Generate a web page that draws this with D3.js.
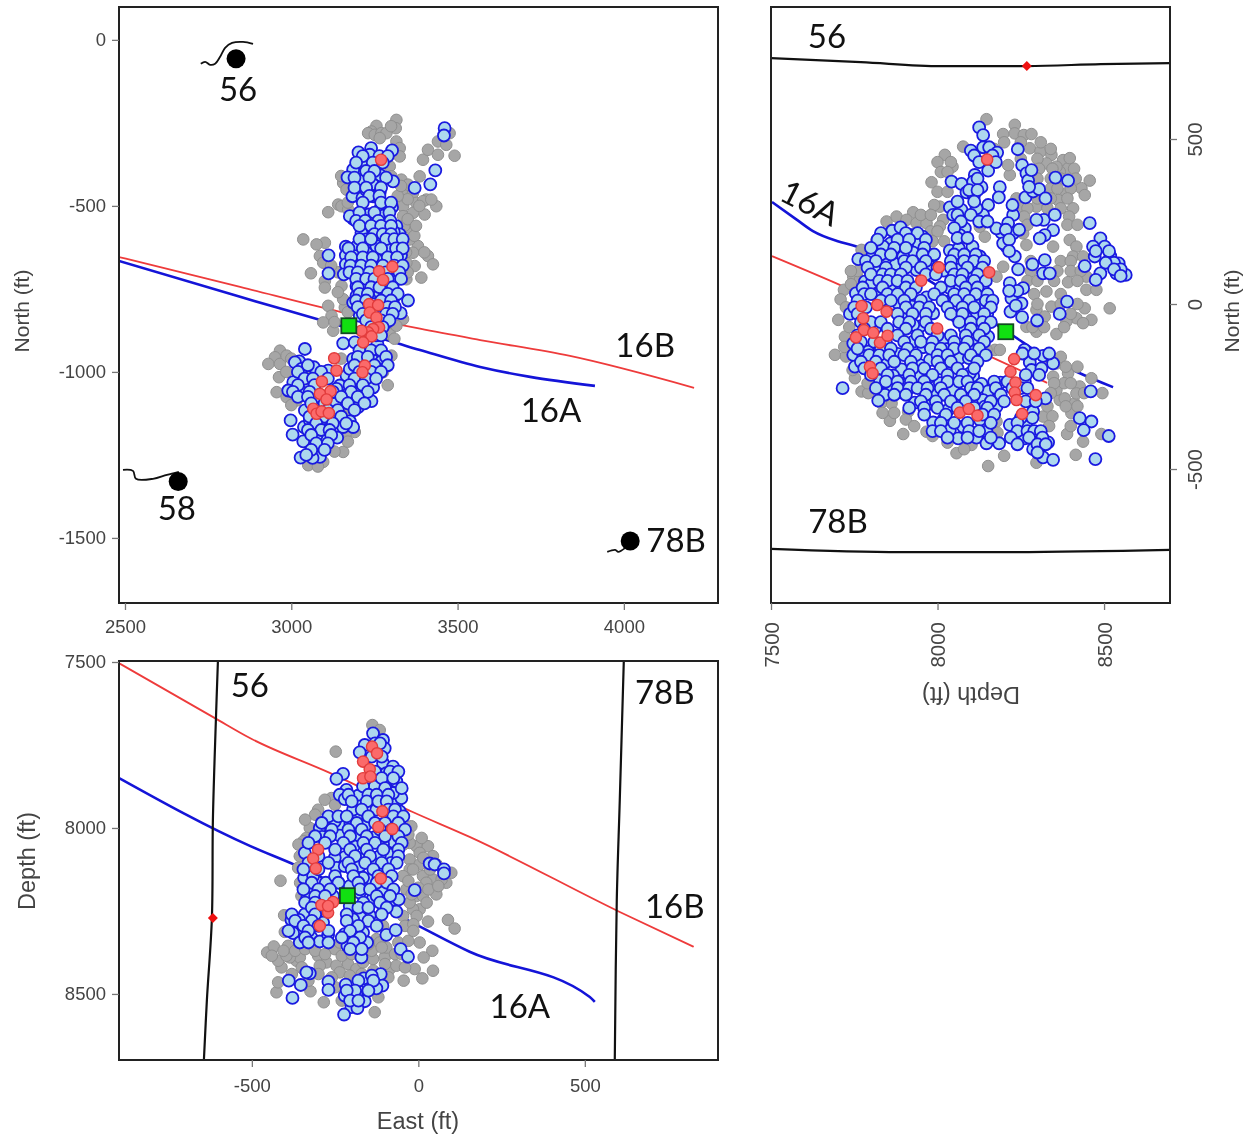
<!DOCTYPE html>
<html>
<meta charset="utf-8">
<head>
<style>
body { margin: 0; background: #fff; }
svg { display: block; filter: blur(0.4px); }
.axis text { font: 18.5px "Liberation Sans", sans-serif; fill: #444; }
.axis.sideways text { font-size: 20.5px; }
.axis line { stroke: #777; stroke-width: 1.3; }
.title { font: 21px "Liberation Sans", sans-serif; fill: #444; text-anchor: middle; }
.title.wide { font-size: 23.5px; }
.well { font: 33px Lato, sans-serif; fill: #111; text-anchor: middle; }
.frame { fill: none; stroke: #222; stroke-width: 2; }
.grey { fill: #a6a6a6; stroke: #8f8f8f; stroke-width: 1; }
.blue { fill: #add8ee; stroke: #1a1ae0; stroke-width: 1.8; }
.red { fill: #fb6a6a; stroke: #e23c3c; stroke-width: 1.4; }
.green { fill: #11e011; stroke: #134a22; stroke-width: 1.8; }
</style>
</head>
<body>
<svg width="1250" height="1138"></svg>

<script src="https://d3js.org/d3.v7.min.js"></script>
<script>

// East / North view (top left)
var greyEN = [[3316,-241],[3314,-266],[3256,-259],[3241,-276],[3231,-281],[3251,-286],[3271,-281],[3286,-281],[3266,-296],[3316,-306],[3326,-326],[3326,-351],[3296,-381],[3301,-411],[3156,-431],[3166,-451],[3331,-421],[3341,-451],[3366,-461],[3351,-436],[3386,-411],[3396,-361],[3411,-331],[3441,-346],[3491,-349],[3441,-306],[3466,-316],[3476,-281],[3406,-481],[3376,-491],[3396,-486],[3436,-501],[3421,-481],[3366,-521],[3401,-526],[3336,-501],[3336,-531],[3356,-566],[3111,-519],[3141,-496],[3151,-501],[3171,-511],[3036,-601],[3101,-611],[3076,-616],[3086,-651],[3096,-671],[3381,-621],[3411,-651],[3426,-676],[3371,-681],[3391,-716],[3356,-601],[3366,-641],[3346,-671],[3346,-721],[3059,-703],[3101,-726],[3101,-746],[3151,-741],[3111,-801],[3121,-831],[3096,-851],[3126,-876],[3161,-806],[3336,-841],[3296,-886],[3301,-951],[2966,-936],[2951,-956],[2931,-976],[2966,-976],[2986,-951],[2963,-1016],[2956,-1061],[2986,-1076],[3016,-1086],[3156,-1241],[3051,-1281],[3096,-1271],[3191,-1181],[3166,-1181],[3146,-1111],[3176,-1131],[3276,-1001],[3156,-781],[3316,-861],[3326,-581],[3350,-480],[3385,-500],[3340,-560],[3370,-590],[3345,-640],[3400,-640],[3350,-700],[3140,-700],[3120,-680],[3140,-760],[3130,-850],[3170,-820],[3310,-900],[3060,-1000],[2985,-1000],[3000,-960],[3150,-960],[3120,-1140],[3170,-1210],[3130,-1240],[3080,-1285],[3350,-540],[3320,-470],[3300,-260],[3330,-440],[3170,-490],[3150,-410],[3375,-560],[3290,-1040],[3000,-1100],[3050,-1120]];
var blueEN = [[3461,-266],[3459,-288],[3433,-393],[3418,-435],[3371,-446],[3306,-426],[3303,-333],[3240,-326],[3202,-339],[3236,-346],[3211,-391],[3186,-391],[3169,-414],[3221,-376],[3268,-408],[3206,-421],[3246,-436],[3266,-459],[3184,-471],[3214,-476],[3246,-471],[3224,-451],[3303,-504],[3266,-511],[3278,-529],[3233,-526],[3215,-541],[3186,-539],[3176,-531],[3251,-546],[3286,-571],[3236,-578],[3211,-581],[3316,-561],[3326,-586],[3308,-578],[3266,-591],[3331,-611],[3299,-611],[3243,-623],[3198,-621],[3164,-623],[3278,-641],[3330,-648],[3226,-641],[3164,-649],[3112,-649],[3198,-671],[3164,-676],[3112,-703],[3158,-706],[3186,-701],[3221,-693],[3256,-661],[3296,-671],[3316,-681],[3196,-741],[3221,-743],[3245,-761],[3286,-741],[3316,-721],[3306,-781],[3351,-785],[3329,-823],[3286,-781],[3276,-811],[3196,-771],[3186,-791],[3216,-801],[3286,-851],[3206,-831],[3156,-914],[3191,-911],[3259,-916],[3261,-946],[3246,-966],[3271,-969],[3041,-931],[3024,-968],[3011,-971],[3031,-991],[3068,-986],[3006,-1031],[3046,-1031],[2991,-1056],[3031,-1061],[3111,-996],[3166,-1011],[3201,-1031],[3156,-1066],[3246,-1047],[3186,-1086],[3216,-1083],[3241,-1088],[3201,-1106],[3131,-1096],[3146,-1041],[2998,-1146],[3004,-1189],[3038,-1166],[3056,-1146],[3041,-1116],[3176,-1149],[3186,-1166],[3156,-1166],[3138,-1198],[3093,-1198],[3051,-1213],[3036,-1209],[3076,-1191],[3106,-1161],[3091,-1231],[3086,-1256],[3064,-1259],[3028,-1258],[3096,-1141],[3266,-996],[3226,-961],[3186,-961],[3176,-991],[3206,-1061],[3136,-1051],[3246,-701],[3266,-721],[3306,-721],[3266,-761],[3206,-701],[3296,-621],[3256,-621],[3191,-651],[3226,-601],[3286,-551],[3316,-611]];
// more blue events in the packed part of the cloud: [north, [east, east, ...]]
var blueENRows = [[-350,[3215,3265,3290]],[-370,[3195,3245,3275]],[-395,[3225,3250]],[-415,[3190,3235,3285]],[-445,[3190,3225,3270]],[-470,[3235,3265]],[-490,[3215,3270,3300]],[-520,[3205,3250,3295]],[-545,[3195,3222,3262,3298]],[-560,[3205,3240,3270,3300]],[-585,[3250,3275,3300]],[-600,[3205,3240,3285,3310,3335]],[-628,[3172,3215,3270,3315,3335]],[-655,[3180,3215,3245,3290,3318]],[-680,[3178,3210,3240,3275,3310,3335]],[-700,[3175,3200,3235,3285,3325]],[-720,[3195,3225,3250,3290,3330]],[-745,[3200,3240,3265,3305]],[-765,[3205,3230,3290,3320]],[-785,[3195,3225,3270,3300]],[-805,[3200,3250,3290,3312]],[-825,[3215,3285,3305]],[-845,[3225,3270,3295]],[-865,[3240,3275]],[-890,[3255,3270]],[-935,[3205,3240,3270]],[-955,[3200,3230,3285]],[-980,[3050,3190,3250,3290]],[-1000,[3020,3090,3205,3240,3270]],[-1020,[3040,3065,3110,3190,3225,3255]],[-1040,[3020,3070,3175,3215]],[-1060,[3005,3055,3125,3180,3230]],[-1075,[3020,3050,3150,3200]],[-1095,[3060,3100,3170,3220]],[-1115,[3110,3140,3190]],[-1135,[3055,3100,3150]],[-1155,[3075,3125,3165]],[-1175,[3050,3090,3115]],[-1190,[3060,3120]],[-1215,[3075,3110]],[-1235,[3060,3100]],[-1250,[3045]]];
var redEN = [[3270,-361],[3304,-683],[3264,-697],[3276,-723],[3234,-796],[3261,-799],[3236,-821],[3256,-836],[3264,-866],[3246,-871],[3231,-881],[3211,-876],[3241,-893],[3216,-911],[3129,-959],[3136,-996],[3221,-981],[3214,-1001],[3092,-1029],[3118,-1058],[3086,-1066],[3106,-1083],[3066,-1111],[3076,-1126],[3091,-1119],[3113,-1124]];

// Depth / North view (top right)
var greyDN = [[8147,560],[8197,515],[8232,543],[8232,517],[8259,512],[8282,515],[8022,452],[8077,477],[8045,416],[8217,391],[8212,421],[8277,472],[8309,462],[8342,452],[8377,436],[8392,411],[8397,442],[8327,426],[8367,401],[8357,416],[7982,369],[8007,295],[8017,255],[8457,374],[8432,351],[8442,330],[8407,290],[8387,335],[8362,315],[8297,295],[8257,295],[8237,320],[7927,278],[7847,250],[7877,265],[7907,255],[7937,245],[7817,194],[7772,164],[7967,245],[8007,235],[8127,234],[8142,204],[8257,214],[8267,179],[8347,174],[8397,194],[8417,174],[8407,144],[8437,144],[8392,66],[8327,38],[8342,-8],[8297,-18],[8322,-38],[8177,83],[8197,113],[8517,-13],[8442,-13],[8462,-48],[8417,-43],[8387,-53],[8437,-58],[8357,-91],[8297,-84],[8267,-69],[7719,43],[7709,14],[7702,-48],[7722,-99],[7692,-154],[7725,-159],[7752,-225],[7772,-265],[7792,-270],[7857,-354],[7897,-394],[7862,-301],[7912,-326],[7967,-387],[8057,-452],[8102,-427],[8152,-491],[8177,-356],[8172,-139],[8187,-139],[8147,-139],[8297,-481],[8415,-457],[8437,-417],[8389,-394],[8492,-394],[8495,-270],[8447,43],[8477,43],[8447,83],[8427,-250],[8412,-301],[8402,-331],[8367,-291],[8347,-220],[8357,-180],[8392,-210],[8462,-225],[8382,-286],[8317,-341],[8357,-260],[8417,-271],[7747,83],[7767,73]];
var greyDNRows = [[490,[8200,8250,8310]],[470,[8170,8340]],[440,[8250,8300]],[430,[8000,8040]],[410,[8305,8345,8410]],[400,[8010,8030]],[380,[8300,8340,8370,8415]],[350,[8340,8360,8400]],[340,[8000,8030]],[320,[8300,8340,8390]],[300,[7990]],[290,[8270,8330,8370]],[270,[7950,7980]],[265,[8260,8395]],[240,[8270,8390,8420]],[220,[7980,8000]],[190,[7985,8020]],[130,[8280,8370,8400]],[100,[7760,7740,8280,8360,8400,8430]],[70,[8270,8300,8350,8420]],[60,[7740]],[30,[8290,8370]],[0,[8300,8370,8420]],[-10,[7725]],[-30,[8400]],[-70,[7735,8285,8320,8380]],[-130,[7720]],[-160,[8370,8330]],[-190,[8420,8385]],[-200,[7745]],[-240,[7790,8380,8400,8350]],[-270,[8340,8440]],[-300,[7830]],[-310,[8330,8385,8420]],[-330,[7870,7835]],[-340,[8345]],[-350,[7905]],[-370,[7930,8335,8400]],[-390,[8130,8180]],[-400,[7985]],[-420,[8030]],[-440,[8080]],[-460,[8200]]];
var blueDN = [[8125,535],[8137,512],[8100,465],[8137,475],[8155,475],[8179,459],[8241,469],[8254,421],[8267,396],[8272,374],[8282,406],[8354,383],[8392,374],[8042,371],[8072,364],[8112,391],[8107,371],[8132,354],[8152,404],[8087,338],[8109,327],[8187,354],[8184,323],[8264,323],[8287,341],[8305,348],[8324,320],[8037,293],[8047,270],[8072,285],[8152,300],[8137,270],[8117,290],[8082,229],[8067,209],[8227,270],[8212,245],[8192,216],[8227,214],[8177,229],[8207,174],[8232,144],[8197,184],[8319,255],[8297,255],[8352,270],[8347,224],[8322,209],[8307,199],[8457,245],[8489,199],[8467,174],[8502,174],[8472,144],[8519,144],[8442,115],[8544,123],[8565,88],[8537,93],[8489,93],[8475,73],[7864,222],[7889,232],[7859,184],[7837,174],[7922,209],[7955,204],[7942,186],[7805,149],[7842,131],[7762,136],[7817,108],[7875,121],[7927,156],[7987,149],[7897,144],[8037,162],[8064,169],[8094,152],[8105,174],[8127,144],[8067,105],[8112,113],[7977,113],[8019,101],[8092,83],[7937,103],[7782,68],[7802,63],[7822,32],[7755,32],[7862,48],[7882,2],[7892,53],[7967,20],[8037,48],[8067,48],[8097,38],[8137,43],[7922,-8],[7957,-8],[8035,7],[8067,12],[8127,-3],[8097,-8],[8149,-30],[8117,-33],[8087,-43],[8057,-38],[7737,-30],[7897,-46],[7947,-68],[7927,-63],[7987,-28],[8082,-74],[8117,-69],[8152,-99],[8217,63],[8257,48],[8222,17],[8252,2],[8242,105],[8285,120],[8322,133],[8317,93],[8337,93],[8219,-23],[8254,-40],[8299,-50],[8367,-30],[8389,7],[7927,-114],[7957,-131],[8017,-109],[8027,-137],[8117,-116],[8107,-139],[8067,-164],[8094,-164],[7977,-170],[7947,-185],[7880,-151],[7842,-178],[7812,-74],[7792,-144],[7747,-119],[7747,-154],[7777,-157],[7752,-190],[7892,-198],[7867,-217],[7902,-240],[7944,-220],[7827,-232],[7852,-250],[7842,-275],[7822,-293],[7890,-268],[7932,-299],[7977,-220],[8007,-240],[8047,-260],[7987,-276],[7977,-301],[8032,-321],[8107,-218],[8132,-242],[8152,-265],[8189,-238],[8137,-291],[8177,-311],[8142,-311],[7987,-359],[8017,-351],[8037,-382],[8077,-372],[8062,-407],[8117,-405],[8147,-387],[8185,-422],[8147,-422],[8261,-139],[8317,-157],[8347,-180],[8277,-177],[8282,-200],[8312,-195],[8262,-235],[8217,-366],[8237,-407],[8262,-407],[8287,-326],[8267,-372],[8297,-417],[8332,-419],[8287,-440],[8317,-465],[8347,-472],[8324,-286],[7715,-255],[8460,-265],[8427,-346],[8462,-356],[8439,-382],[8514,-400],[8474,-470],[8097,-210],[8127,-351]];
var blueDNRows = [[450,[8110,8165]],[430,[8125,8175]],[380,[8120]],[355,[8275]],[345,[8095,8120]],[310,[8060,8110]],[300,[8225]],[270,[8060,8100]],[250,[8070,8125,8150]],[230,[8050]],[225,[8205,8245]],[215,[7830,7905,7940]],[200,[8060,8090]],[195,[7820,7880,7915,7965,8215]],[170,[7800,7870,7905,7960]],[160,[8215,8475,8515]],[150,[7830,7860,7955,7990,8050,8080,8115]],[130,[7785,7815,7900,7925,7965,8040,8080,8110,8140]],[125,[8530,8505]],[110,[7790,7845,7905,7950,8000,8040,8090,8135]],[105,[8550,8530]],[90,[7800,7835,7860,7890,7965,7995,8050,8075,8120]],[85,[8550]],[70,[7825,7850,7880,7910,8040,8070,8110,8145]],[50,[7775,7835,7905,7935,8010,8085,8120]],[40,[8240,8215]],[30,[7780,7800,7850,7880,7920,7990,8050,8080,8115,8150]],[10,[7760,7830,7860,7900,7950,8015,8055,8095,8145,8165]],[-5,[8235]],[-10,[7750,7785,7905,7945,7975,8030,8075,8110,8160]],[-30,[7760,7880,7925,7965,8040,8075,8140]],[-55,[7770,7800,7830,7885,7915,7965,8065,8100,8135,8160]],[-75,[7780,7850,7905,7980,8100,8140]],[-95,[7760,7880,7940,8000,8040,8085,8125]],[-115,[7770,7810,7845,7900,7950,7985,8050,8090,8140]],[-135,[7760,7830,7860,7910,7980,8010,8050,8080,8125]],[-150,[8255,8290,8335]],[-155,[7795,7825,7855,7900,7935,8000,8030,8100,8145]],[-175,[7770,7815,7870,7920,8000,8040,8120]],[-195,[7780,7830,7925,7960,8010,8060,8110]],[-215,[7800,7850,7915,7985,8030,8075,8265,8305]],[-235,[7845,7880,7920,7960,8030,8065,8090,8170,8210]],[-255,[7815,7880,7915,7940,7970,8010,8100,8120,8175,8225,8250,8270]],[-275,[7870,7905,7965,8020,8070,8110,8190]],[-295,[7950,7995,8040,8085,8160,8200,8265,8295]],[-315,[7915,7960,8000,8060,8110,8150]],[-335,[7960,8025,8135,8170]],[-345,[8250,8285]],[-360,[8010,8050,8090,8160,8240]],[-385,[7985,8010,8095,8125,8240,8270,8290,8310]],[-405,[8030,8090,8160,8220,8275,8315]],[-425,[8240,8300,8325]],[-450,[8300]]];
var redDN = [[8149,438],[8004,111],[8155,96],[7951,71],[7999,-74],[7772,-6],[7819,-3],[7847,-23],[7777,-43],[7779,-79],[7807,-87],[7755,-101],[7827,-117],[7850,-96],[7797,-190],[7805,-210],[8230,-167],[8219,-205],[8234,-238],[8232,-268],[8237,-291],[8295,-276],[8254,-333],[8067,-329],[8094,-318],[8120,-338]];

// East / Depth view (bottom left)
var greyED = [[-138,7690],[-116,7705],[-248,7770],[-414,8159],[-403,8263],[-401,8313],[89,8277],[109,8303],[29,8282],[4,8345],[42,8370],[16,8390],[44,8430],[12,8453],[-11,8425],[-44,8460],[-131,8555],[-284,8525],[-324,8492],[-426,8495],[-421,8465],[-454,8375],[-434,8357],[-411,8420],[-421,8400],[-391,8355],[-366,8400],[-346,8425],[-301,8385],[-276,8405],[-246,8415],[-211,8410],[-186,8425],[-101,8390],[-86,8425],[-66,8415],[-96,8360],[-126,8335],[-261,7910],[-281,7915],[-301,7945],[-326,8000],[-336,8030],[-356,8085],[-361,8120],[-351,8205],[-21,7995],[-6,8055],[-26,8095],[29,8055],[4,8110],[-26,8125],[44,8085],[14,8145],[44,8155],[84,8165],[99,8135],[54,8200],[4,8245],[-16,8245],[-6,8205],[-36,8185],[-26,8225],[-46,8265],[-106,8295],[-116,8345],[-251,8365],[-356,8390],[-386,8390],[-296,8415],[-236,8345],[-166,8405],[-136,8395],[-66,8065],[-16,8125],[-46,8145],[14,8205],[-26,8045],[4,8075],[24,8165],[-396,8385],[-236,8435],[-206,8445],[-30,8020],[10,8030],[-45,8050],[15,8090],[55,8110],[35,8125],[70,8155],[-30,8160],[0,8180],[30,8185],[60,8175],[-20,8200],[25,8225],[-5,8265],[-40,8295],[-15,8290],[-345,8040],[-355,8165],[-250,7930],[-310,7960],[-340,7975],[-360,8050],[-440,8385],[-405,8370],[-370,8370],[-340,8365],[-310,8370],[-280,8380],[-350,8420],[-380,8440],[-330,8460],[-300,8440],[-260,8450],[-230,8385],[-200,8380],[-170,8370],[-140,8370],[-100,8410],[-135,8430],[-70,8380],[-50,8380],[-40,8420],[-170,8440],[-110,8360],[-230,8520],[-250,8480],[-120,8510],[-90,8450],[-150,8350],[-60,8345],[-30,8340],[-15,8310]];
var blueED = [[-136,7715],[-106,7735],[-161,7750],[-176,7772],[-101,7760],[-226,7837],[-246,7852],[-106,7805],[-76,7815],[-96,7835],[-131,7875],[-94,7863],[-66,7860],[-216,7885],[-236,7900],[-221,7913],[-181,7903],[-176,7935],[-66,7923],[-51,7910],[-56,7950],[-56,7990],[-186,7967],[-266,7977],[-296,8000],[-278,7985],[-236,7990],[-204,7987],[-251,7980],[-289,8027],[-236,8023],[-181,8028],[-131,8028],[-161,7995],[-76,8042],[-106,8048],[-194,8055],[-341,8075],[-86,8080],[-116,8085],[-221,8088],[-251,8090],[-131,8110],[-81,8105],[-176,8115],[-146,8155],[-343,8150],[-316,8145],[-278,8165],[-166,8150],[-106,8190],[-331,8185],[-334,8213],[-246,8120],[-221,8115],[-11,8187],[34,8107],[49,8110],[77,8125],[77,8137],[-136,8212],[-101,8220],[-78,8217],[-59,8215],[-66,8252],[-126,8273],[-146,8263],[-173,8270],[-196,8275],[-341,8260],[-358,8277],[-381,8277],[-356,8305],[-376,8317],[-356,8345],[-321,8330],[-296,8342],[-271,8322],[-221,8320],[-196,8328],[-166,8315],[-213,8355],[-154,8345],[-96,8322],[-68,8308],[-53,8365],[-31,8388],[-171,8390],[-113,8440],[-108,8475],[-156,8465],[-126,8483],[-164,8453],[-326,8438],[-336,8435],[-389,8460],[-353,8473],[-378,8512],[-270,8463],[-270,8488],[-218,8472],[-186,8500],[-206,8510],[-161,8522],[-201,8540],[-183,8543],[-223,8562],[-221,8505],[-306,8255],[-286,8285],[-206,8235],[-176,8195],[-206,8175],[-256,8205],[-156,8085],[-196,7945],[-76,7895],[-126,7945],[-166,7875]];
var blueEDRows = [[7745,[-130,-115]],[7785,[-140,-110]],[7830,[-130,-85,-60]],[7850,[-110,-75]],[7880,[-100,-50]],[7900,[-210,-150,-125,-90]],[7920,[-200,-155,-120,-95]],[7945,[-170,-90,-70]],[7965,[-270,-240,-215,-150,-75,-45]],[7985,[-290,-185,-130,-100,-60]],[8005,[-260,-210,-170,-115,-80,-40]],[8025,[-310,-265,-205,-155,-100,-60]],[8045,[-330,-280,-225,-165,-130,-50]],[8065,[-250,-205,-155,-105,-60]],[8085,[-300,-190,-145,-60]],[8105,[-330,-270,-210,-160,-110,-65]],[8125,[-345,-300,-200,-135,-90]],[8145,[-250,-195,-120,-80]],[8165,[-320,-240,-180,-125,-95]],[8185,[-345,-300,-265,-175,-145,-75]],[8205,[-310,-280,-125,-85]],[8225,[-340,-310,-165,-115]],[8240,[-320,-180,-150,-95]],[8260,[-380,-310,-215,-110]],[8280,[-370,-320,-215,-150]],[8295,[-345,-300,-180,-125]],[8310,[-390,-330,-270,-205]],[8330,[-340,-230,-175]],[8345,[-330,-270,-195]],[8365,[-205,-170]],[8445,[-140]],[8460,[-180,-135]],[8490,[-190,-150,-215]],[8520,[-205,-180]]];
var redED = [[-139,7755],[-124,7775],[-166,7800],[-146,7823],[-166,7850],[-144,7845],[-108,7950],[-120,7997],[-78,8003],[-301,8065],[-316,8092],[-308,8122],[-113,8152],[-291,8232],[-256,8223],[-271,8255],[-296,8295],[-271,8235]];

// wells and lateral traces in each view
var line16AEN = [[2482,-666],[2846,-774],[3147,-861],[3387,-934],[3568,-985],[3718,-1015],[3913,-1042]];
var line16BEN = [[2482,-654],[2846,-744],[3147,-819],[3387,-870],[3568,-904],[3838,-952],[4211,-1048]];
var well56EN = [[2728,-72],[2741,-66],[2756,-75],[2771,-72],[2786,-51],[2801,-24],[2822,-9],[2855,-6],[2885,-12]];
var well58EN = [[2494,-1295],[2524,-1298],[2533,-1322],[2584,-1322],[2626,-1310],[2662,-1301]];
var well78EN = [[3950,-1542],[3974,-1536],[3983,-1542],[4004,-1530]];

var line16ADN = [[7503,309],[7578,255],[7626,221],[7698,191],[7752,176],[8233,-100],[8299,-145],[8419,-206],[8527,-252]];
var line16BDN = [[7503,145],[7713,55],[8149,-155],[8329,-239]];
var well56DN = [[7500,745],[7770,733],[8010,721],[8268,721],[8490,727],[8700,730]];
var well78DN = [[7500,-742],[7890,-752],[8190,-752],[8700,-745]];

var line16AED = [[-900,7849],[-506,8054],[-371,8111],[-17,8286],[154,8373],[515,8509],[530,8524]];
var line16BED = [[-900,7503],[-611,7669],[-506,7729],[-266,7834],[-17,7952],[154,8027],[605,8253],[827,8358]];
var well56ED = [[-602,7500],[-608,7675],[-617,7976],[-620,8271],[-635,8518],[-644,8699]];
var well78ED = [[617,7500],[605,7916],[596,8217],[590,8699]];

// rows are [y, [x, x, ...]], turn them into [x, y] pairs
function fromRows(rows) {
  var out = [];
  rows.forEach(function(r) {
    r[1].forEach(function(v) { out.push([v, r[0]]); });
  });
  return out;
}

var svg = d3.select("svg");

function panel(o) {
  var x = d3.scaleLinear().domain(o.xDomain).range([o.left, o.right]),
    y = d3.scaleLinear().domain(o.yDomain).range([o.bottom, o.top]);

  var clipId = "clip" + o.id;
  svg.append("clipPath").attr("id", clipId).append("rect")
    .attr("x", o.left).attr("y", o.top)
    .attr("width", o.right - o.left).attr("height", o.bottom - o.top);

  var g = svg.append("g").attr("clip-path", "url(#" + clipId + ")");
  var path = d3.line().x(function(d) { return x(d[0]); }).y(function(d) { return y(d[1]); });

  o.lines.forEach(function(l) {
    g.append("path").attr("d", path.curve(l.curve || d3.curveCatmullRom)(l.data))
      .attr("fill", "none").attr("stroke", l.color).attr("stroke-width", l.width);
  });

  // draw order: everything grey, then blue, then red on top
  [["grey", o.grey, 5.8], ["blue", o.blue, 6], ["red", o.red, 5.6]].forEach(function(s) {
    g.append("g").selectAll("circle")
      .data(s[1]).enter().append("circle")
      .attr("class", s[0])
      .attr("cx", function(d) { return x(d[0]); })
      .attr("cy", function(d) { return y(d[1]); })
      .attr("r", s[2]);
  });

  (o.dots || []).forEach(function(d) {
    g.append("circle").attr("cx", x(d[0])).attr("cy", y(d[1])).attr("r", 9.5).attr("fill", "#000");
  });

  if (o.green) {
    g.append("rect").attr("class", "green")
      .attr("x", x(o.green[0]) - 7.5).attr("y", y(o.green[1]) - 7.5)
      .attr("width", 15).attr("height", 15);
  }

  if (o.diamond) {
    g.append("path").attr("d", d3.symbol().type(d3.symbolSquare).size(50))
      .attr("transform", "translate(" + x(o.diamond[0]) + "," + y(o.diamond[1]) + ") rotate(45)")
      .attr("fill", "#ee1111");
  }

  o.labels.forEach(function(l) {
    svg.append("text").attr("class", "well")
      .attr("transform", "translate(" + x(l[1]) + "," + y(l[2]) + ")" + (l[3] ? " rotate(" + l[3] + ")" : ""))
      .attr("dy", "0.35em")
      .text(l[0]);
  });

  svg.append("rect").attr("class", "frame")
    .attr("x", o.left).attr("y", o.top)
    .attr("width", o.right - o.left).attr("height", o.bottom - o.top);

  return {x: x, y: y};
}

function cleanAxis(sel) {
  sel.select(".domain").remove();
  sel.selectAll("text").attr("fill", null);
  sel.selectAll("line").attr("stroke", null);
}

var smooth = d3.curveMonotoneX;

// top left
var en = panel({
  id: "EN", left: 119, right: 718, top: 7, bottom: 603,
  xDomain: [2482, 4283], yDomain: [-1696, 99],
  grey: greyEN, blue: blueEN.concat(fromRows(blueENRows)), red: redEN, green: [3173, -861],
  dots: [[2834, -57], [2660, -1330], [4019, -1509]],
  lines: [
    {data: line16BEN, color: "#ee3b3b", width: 1.8, curve: smooth},
    {data: line16AEN, color: "#1414d8", width: 2.6, curve: smooth},
    {data: well56EN, color: "#111", width: 1.8},
    {data: well58EN, color: "#111", width: 1.8},
    {data: well78EN, color: "#111", width: 1.8}
  ],
  labels: [["56", 2840, -148], ["16B", 4064, -920], ["16A", 3781, -1115], ["58", 2656, -1412], ["78B", 4157, -1509]]
});

// top right
var dn = panel({
  id: "DN", left: 771, right: 1170, top: 7, bottom: 603,
  xDomain: [7500, 8698], yDomain: [-906, 900],
  grey: greyDN.concat(fromRows(greyDNRows)), blue: blueDN.concat(fromRows(blueDNRows)), red: redDN, green: [8205, -84],
  diamond: [8268, 721],
  lines: [
    {data: line16BDN, color: "#ee3b3b", width: 1.8, curve: smooth},
    {data: line16ADN, color: "#1414d8", width: 2.6, curve: smooth},
    {data: well56DN, color: "#111", width: 2.2, curve: smooth},
    {data: well78DN, color: "#111", width: 2.2, curve: smooth}
  ],
  labels: [["56", 7668, 812], ["78B", 7701, -658], ["16A", 7617, 306, 27]]
});

// bottom left
var ed = panel({
  id: "ED", left: 119, right: 718, top: 661, bottom: 1060,
  xDomain: [-899, 900], yDomain: [8699, 7497],
  grey: greyED, blue: blueED.concat(fromRows(blueEDRows)), red: redED, green: [-213, 8204],
  diamond: [-617, 8271],
  lines: [
    {data: line16BED, color: "#ee3b3b", width: 1.8, curve: smooth},
    {data: line16AED, color: "#1414d8", width: 2.6, curve: smooth},
    {data: well56ED, color: "#111", width: 2.2},
    {data: well78ED, color: "#111", width: 2.2}
  ],
  labels: [["56", -506, 7570], ["78B", 740, 7592], ["16B", 770, 8236], ["16A", 305, 8537]]
});

// axes, R style: short grey ticks, labels outside
var eastTicks = [2500, 3000, 3500, 4000], northTicks = [0, -500, -1000, -1500],
  depthTicks = [7500, 8000, 8500], northTicksDN = [500, 0, -500], eastTicksED = [-500, 0, 500];

svg.append("g").attr("class", "axis").attr("transform", "translate(0,603)")
  .call(d3.axisBottom(en.x).tickValues(eastTicks).tickSize(7).tickPadding(10).tickFormat(String)).call(cleanAxis);
svg.append("g").attr("class", "axis").attr("transform", "translate(119,0)")
  .call(d3.axisLeft(en.y).tickValues(northTicks).tickSize(7).tickPadding(6).tickFormat(String)).call(cleanAxis);

// top right: labels are turned sideways
svg.append("g").attr("class", "axis sideways").attr("transform", "translate(0,603)")
  .call(d3.axisBottom(dn.x).tickValues(depthTicks).tickSize(7).tickPadding(7).tickFormat(String)).call(cleanAxis)
  .selectAll("text")
  .attr("transform", "rotate(-90)")
  .attr("text-anchor", "end").attr("x", -19).attr("y", 0).attr("dy", "0.35em");
var dnRight = svg.append("g").attr("class", "axis sideways").attr("transform", "translate(1170,0)")
  .call(d3.axisRight(dn.y).tickValues(northTicksDN).tickSize(7).tickPadding(7).tickFormat(String)).call(cleanAxis);
dnRight.selectAll("text")
  .attr("text-anchor", "middle").attr("dy", "0.35em").attr("x", 0).attr("y", 0)
  .attr("transform", "translate(25,0) rotate(-90)");

svg.append("g").attr("class", "axis").attr("transform", "translate(0,1060)")
  .call(d3.axisBottom(ed.x).tickValues(eastTicksED).tickSize(7).tickPadding(12).tickFormat(String)).call(cleanAxis);
svg.append("g").attr("class", "axis").attr("transform", "translate(119,0)")
  .call(d3.axisLeft(ed.y).tickValues(depthTicks).tickSize(7).tickPadding(6).tickFormat(String)).call(cleanAxis);

svg.append("text").attr("class", "title").attr("transform", "translate(29,311) rotate(-90)").text("North (ft)");
svg.append("text").attr("class", "title").attr("transform", "translate(1232,311) rotate(-90)").attr("dy", "0.35em").text("North (ft)");
svg.append("text").attr("class", "title wide").attr("transform", "translate(971,695) rotate(180)").attr("dy", "0.35em").text("Depth (ft)");
svg.append("text").attr("class", "title wide").attr("transform", "translate(35,861) rotate(-90)").text("Depth (ft)");
svg.append("text").attr("class", "title wide").attr("x", 418).attr("y", 1129).text("East (ft)");

</script>
</body>
</html>
